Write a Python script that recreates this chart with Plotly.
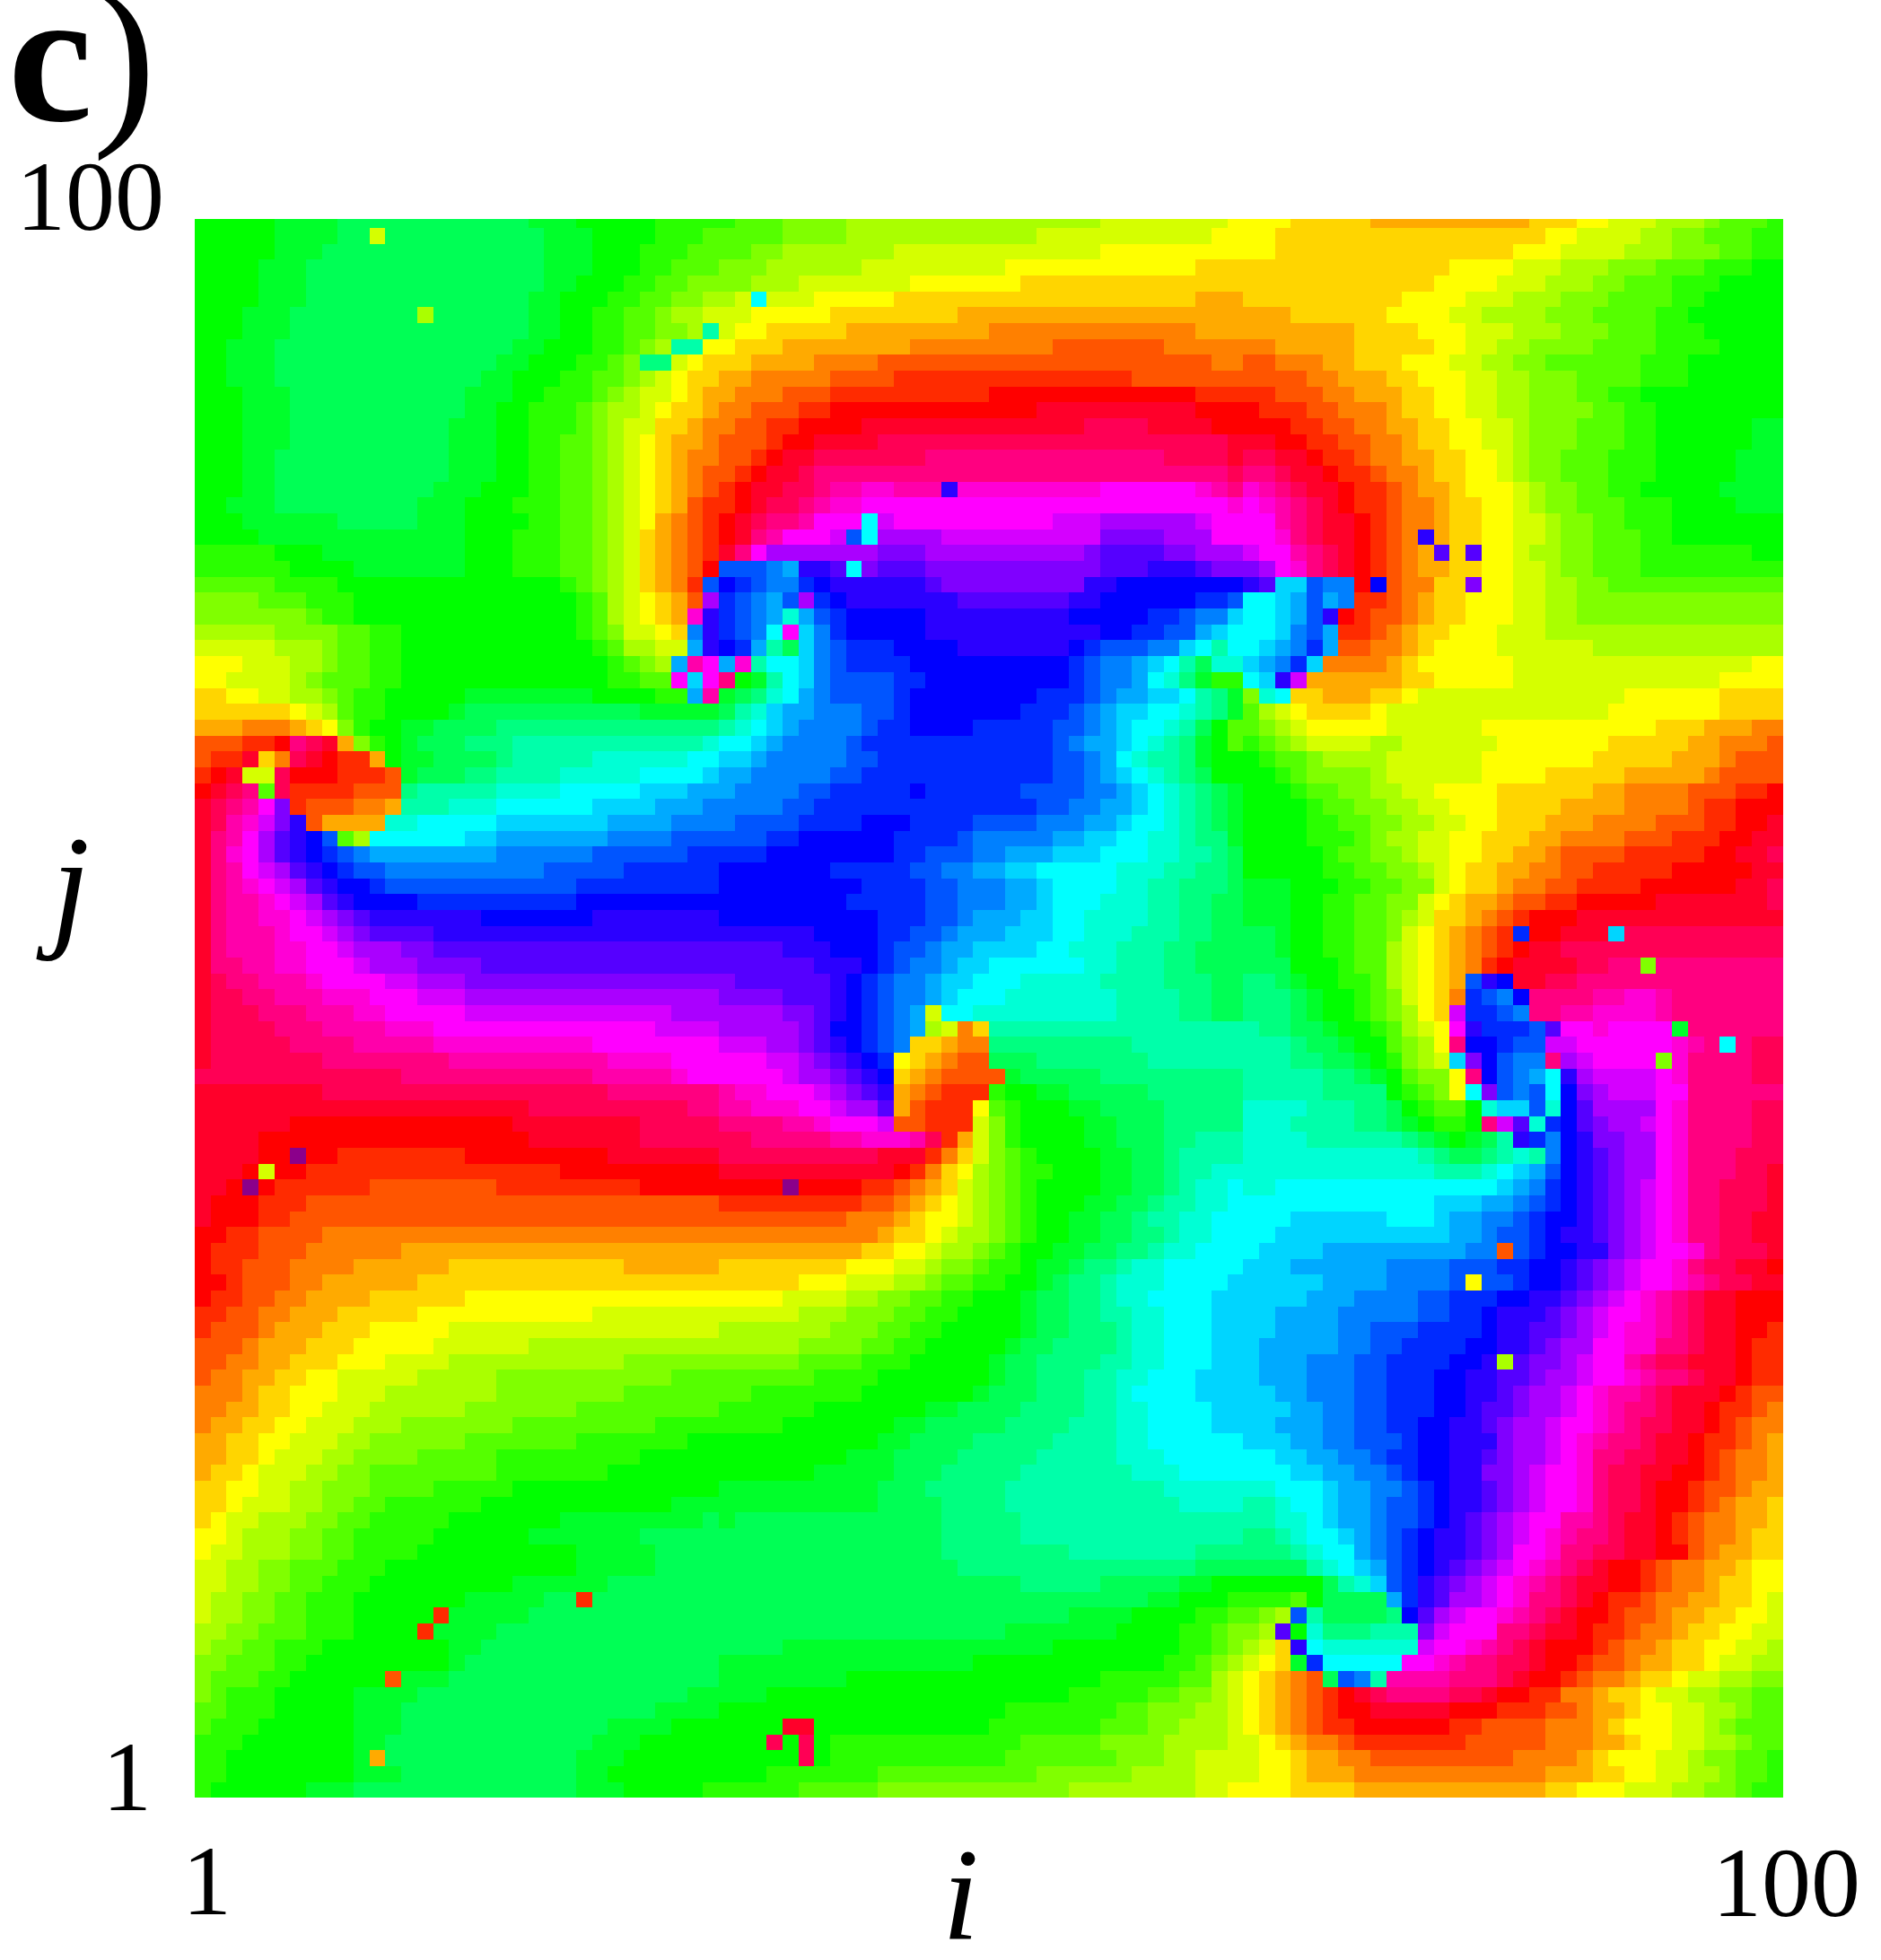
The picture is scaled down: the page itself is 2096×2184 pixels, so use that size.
"""Phase map c): hue of the oscillator phase on a 100 x 100 lattice."""
import plotly.graph_objects as go

# One character per cell, top row (j=100) first. Base 36 digit = hue / 10 degrees.
PHASE_LEFT = [  # i = 1..33
    "cccccddddeeeeeeeeeeeedddcccccbbbb", "cccccddddeeeeeeeeeeeeedddccccbbba", "cccccdddeeeeeeeeeeeeeedddcccbbbaa",
    "ccccdddeeeeeeeeeeeeeeedddcccbbaaa", "ccccdddeeeeeeeeeeeeeeeddcccbbaa99", "ccccdddeeeeeeeeeeeeeeddcccbbaa998",
    "cccdddeeeeeeeeeeeeeeeddccbbaa9887", "cccdddeeeeeeeeeeeeeeeddccbbaa9987", "ccdddeeeeeeeeeeeeeeeddcccbba98776",
    "ccdddeeeeeeeeeeeeeeddcccbba988765", "ccdddeeeeeeeeeeeeeddcccbbaa987655", "cccdddeeeeeeeeeeedddccbbba9877654",
    "cccdddeeeeeeeeeeeddccbbba98876554", "cccdddeeeeeeeeeedddccbbba98775543", "cccdddeeeeeeeeeedddccbbaa98765443",
    "cccddeeeeeeeeeeedddccbbaa98765433", "cccddeeeeeeeeeeedddccbbaa98765432", "cccddeeeeeeeeeedddcccbbaa98765432",
    "ccdddeeeeeeeeedddcccbbbaa98765421", "cccddddddeeeeedddccccbbaa98764321", "ccccdddddddddddddcccbbbaa98754321",
    "bbbbbcccdddddddddcccbbbaa98754321", "bbbbbbccccdddddddcccbbbaa98754320", "aaaaabbbbccccccccccccccba9875431m",
    "9999aaabbbccccccccccccccba876542s", "9999999abbccccccccccccccba87654vp", "888889999aabbcccccccccccba97765lp",
    "777778889aabbccccccccccccba8877kp", "666777889aabbcccccccccccccba98kwu", "66777789aaabbcccccccccccccbbaauju",
    "556677889abbcccccddddddddccccbbkw", "555555678abbccccdeeeeeeeeeeeddddd", "4443334569bccddeeeeffffffffffffff",
    "222110xyz49bcdeeefffggggggggggggh", "211z53yz0114cddeeeefggggghhhhhhii", "10z77y0001112deeeffgggghhhhhiiiij",
    "0zyxay1111222fggggghhhhiiiiijjjkk", "zyxwur1222334ggghhhiiiiiijjjjkkkl", "zywvtrp24444hhiiiiijjjjjjjkkkklll",
    "zxwusqpoma8iiiiiijjkkkkkkkllllmmm", "zxvusqponmlkkkkkkkkllllllmmmmmmnn", "zxwutsqponmmllllllllllmmmmmnnnnnn",
    "zxwvutsqpoonmmmmmmmmmmmmnnnnnnnnn", "zxwwvutsqpoooonnnnnnnnnnooooooooo", "zxwwvvutsrqpppppppooooooopppppppp",
    "zxwwwvuutsrqqqqpppppppppppppppppp", "zxwwwvvuutsssrrqqqqqqqqqqqqqqqqqq", "zxxwwvvuuutsssrrrrqqqqqqqqqqqqqqq",
    "zyxxwwwvuuuuttsssrrrrrrrrrrrrrrrr", "zyyxxwwwvvvuuutttssssssssssssssss", "zyyyxxxwwwvvuuuuutttttttttttttsss",
    "zyyyyxxxwwwwvvvuuuuuuuuuuuuuutttt", "zyyyyyxxxxwwwwwvvvvvvvvvvuuuuuuuu", "zyyyyyyyxxxxxxxxwwwwwwwwwwvvvvuuu",
    "yyyyyyyyyyyyyxxxxxxxxxxxxwwwwwvuu", "zzzzzzzzyyyyyyyyyyyyyyyyyyxxxxxxx", "zzzzzzzzzzzzzzzzzzzzzyyyyyyyyyyxx",
    "zzzzzz00000000000000zzzzzzzzyyyyy", "zzzz00000000000000000zzzzzzzyyyyy", "zzzz0000011111111000000000zzzzzzz",
    "zzz000011111111111111110000000000", "zz0001111112222222211111111100000", "z000111222222222222222222222222221",
    "z00011222222222222222222222222222", "001122223333333333333333333333333", "0111222333333444444444444444444444",
    "011222333344444455555555555444444", "001222334444445555555555555555555", "011223344445555556666666666666666",
    "112233444555556666666666677777777", "122234445556666677777777777777777", "222344455566666777777888888888888",
    "223344555666777788888888888999999", "233445566777778888899999999999aaa", "333455666777888888899999999aaaaaa",
    "334455667778888889999999aaaaaaaaa", "34455667778889999999aaaaaaaaabbbb", "44556677788999999aaaaaaabbbbbbbcc",
    "445567778899 99aaaaabbbbbbbbbccccc", "45567778899aaaaaaaabbbbbbbccccccc", "55667788999aaaabbbbbccccccccccccc",
    "55677788 99aabbbbbbccccccccccccddd", "567788899aabbbbbcccccccddddddddde", "66788899aabbbbbccccccdddddddeeeee",
    "67788899aabbbbccccccccccdddddeeee", "778899aaabbbccccccccccccdddddeeee", "778899aabbbcccccccccddddddeeeeeee",
    "78899aabbbcccccccdddddeeeeeeeeeee", "78899aabbbcccccddddddeeeeeeeeeeee", "8899aaabbbccccdddddeeeeeeeeeeeeee",
    "899aabbbccccccccddeeeeeeeeeeeeeee", "99aaabbcccccccccdeeeeeeeeeeeeeeee", "9aaabbcccccccdddeeeeeeeeeeeeeeeee",
    "9abbbcccccddddeeeeeeeeeeeeeeeeedd", "aabbbcccccdddeeeeeeeeeeeeeeeedddd", "abbbccccccdddeeeeeeeeeeeeeddddccc",
    "bbbcccccccddeeeeeeeeeeeeedddccccc", "bbccccccccddeeeeeeeeeeeedddcccccc", "bbccccccccdddeeeeeeeeeeeddccccccc",
    "bccccccdddeeeeeeeeeeeeeedddcccccb",
]

PHASE_MID = [  # i = 34..66
    "baaa999988888888888888887777777 76", "aaaa99998888888888887777777777766", "aa9988888887777777777777666666666",
    "999888888777777777666666666666555", "998887777777666666655555555555555", "877777666665555555555555555555444",
    "776666655555555444444444444444444", "76655555444444444333333333333344", "655544444444333333333222222233333 3",
    "55444433332222222222222222222223", "44333332222111111111111111222222", "433322211111111110000000000000111",
    "33222110000000000000zzzzzzzzzz000", "3221100 00zzzzzzzzzzzzzzyyyyzzzz0", "222100zzzzyyyyyyyyyyyyyyyyyyyyyyz",
    "2210zzyyyyyyyxxxxxxxxxxxxxxxyyyyz", "210zzyxxxxxxxxxxxxxxxxxxxxxxxxxxy", "10zzyyxwwvvwwwvvvvvvvvvvuuuuuuvwx",
    "10zyyxwvvuuuuuuuuuuuuuuuuuuuuuuuv", "0zyxxwuuuttuuuuuuuuuutttsssssstuu", "0zxwuuutmsssssttttttttttrrrrsssu",
    "zxusssssssrrrssssssssssrqqqqrrs", "mmmlkppqqrqqqrrrrrrrrrrrqqqpppqrr", "onmllnoppppppqrrrrrrrrrppoooooooo",
    "nmlkmsnopppppppqqqqqqqppoooooonnmi", "nmlkhkmnooooopppppppppooooonnmllji", "nmliujlnooooopppppppppppoonnmmkjii",
    "onkgejlmnnnoooopppppppo nmmmlljigi", "kvgiijlmnnnnoooooooooonmllkjigeh", "xcdgijlmmmmnnooooooooonmllkihfdb",
    "defhiklmmmmnoooooooonnnmlkkjjigfdb", "eghjkklllmmnooooooonnnmlkjjiihgfdc", "ghijkllllmnnoooonnnnnmmlkjiihgeca",
    "iijkllllmnnnnnnnnnnnnmlkkjihgfdca", "jjklllllmmnnnnnnnnnnnmmlkihggfdc", "kklllllmmnnnnnnnnnnnnmmlkjihgfec",
    "kllllmmnnnnnonnnnnnmmmmllkjihgfed", "llllmmnnnnnnnnnnnnnnmmllkkjihgfed", "lmmmmnnnnooonnnnmmmmlllkkjiihgfed",
    "mmmnnoooooonnnnmlllllkkjjiihhgffd", "nnnoooooooonnmmmllkkkjjjiiihhggfe", "ooooooonnnnnmmllkkjjiiiiihhhggffe",
    "ooooooooonnnnmmlllkkjiiiihhggfffe", "oooooooonnnnnmmlllkkjiiihhhggffee", "oooooooooonnnmmlkkkjjiihhhhggffee",
    "ppppppoooonnmmlkkkjjjiihhhgggffee", "qqqqpppooonmmlkkjjjjiihhhgggffeee", "qqqqqqppponmllkjjiiiiiihhgggffeee",
    "rqqqqqqponmllkjjiiihhhhhggggfffee", "rrrrqqqponmllkjiiihhhhhhhggggffee", "ssssrrqponmlkjiihhhhhhhhhggggffee",
    "sssssrqoonmlk8735gggggggggggggggg", "tttssrqponml55433fffffffffggggggg", "uuuttsrqpon654322eeefffffffgggggg",
    "uuuutssrqpo5432222deeeeefffffffff", "wvvuuutsrqp432111bccddeeeeeffffff", "wwvvvuutssq421116abcccddeeeefffff",
    "xxxxwwvuuut2211179bccccddeeefffff", "yyxxxxxwwvvvwy1479bccccddeeeffggg", "yyyyyyyyyyzzz13579abccccddeefgggg",
    "zzzzzzzzzzz0135689abbcccddeefgghh", "000000000112345789abccccddeefghhi", "111111111223456789abcccddeefgghhi",
    "222222223334566789abccddeefgghhii", "333333333345567889abccddeeffghhii", "44444444455667889abccddeeffghhiii",
    "5555555566677899abbcddeffghhiiiii", "55555666777889aabbccdeffghhhiiiij", "666677778899aabbcccdeeffghhiiiijj",
    "77777888999aabbccccdeeffgghhiiijj", "8888888999aabbcccccdeefffghhiiijj", "888889999aabbcccccdeeffffghhiiijj",
    "99999aaaabbbcccccdeeffffgghhiiijj", "aaaaaabbbbcccccccdeefffgghhiiijjj", "aabbbbbbbcccccccdeeefffgghiiiijjj",
    "bbbbbbcccccccddeeeeffffgghhiiiijj", "bbbbcccccccddeeeeeffffggghhiiiijj", "ccccccccccddeeeefffffgggghhiiiiii",
    "ccccccccdddeeeefffffggggghhhiiiii", "ccccccdddddeeefffffggggggghhhiiii", "ddddddddddeeefffffgggggggggghhhhh",
    "ddddddddddeeeeffffggggggggggghhhh", "deeeeeeeeeeeeefffffgggggggggggggg", "eeeeeeeeeeeeeefffffgggggggggggggg",
    "eeeeeeeeeeeeeeffffffffggggggggfff", "eeeeeeeeeeeeeeefffffffffffffffeee", "eeeeeeeeeeeeeeeeeeefffffeeeeeddcc",
    "eeeeeeeeeeeeeeeeeeeeeeeeeeeddcccb", "eeeeeeeeeeeeeeeeeeeeeeddddccccbba", "eeeeeeeeeeeeeeeeeedddddddccccbba9",
    "eeeedddddddddddddddddccccccccbba98", "ddddddddddddddddccccccccccccbba98", "ddddddddccccccccccccccccbbbbbaa87",
    "dddcccccccccccccccccccbbbbbaa9987", "ccccccccccccccccccbbbbbbbaa999887", "cccccccccccccccccbbbbbbbaaa998887",
    "cccccccbbbbbbbbbbbbaaaaa999988887", "cccccccbbbbbbbbbbbaaaaaaa99988777", "cccbbbbbbbaaaaaaaaaa9999998888777",
    "bbbbbaaaaa999999999999888888887 76",
]

PHASE_RIGHT = [  # i = 67..100
    "66655555444444444455566777888 9aaabbb", "6655555555555555555 66777788 99aaabbc", "665555555555555556667777888999aabbcc",
    "5555555555555 666677788 8999aaabbbccc", "555555555555666677 78889 9aaabbbcccc", "55555555556666777 8889 99aaaabbccccc",
    "44455555566667788889 99aaaabbccccc", "44444445555666777888999aaabbbccccc", "3344444555556677889999aaaabbbbccccc",
    "2233344555666778899aaaaaabbbccccc", "222233444556667788999aaaabbbcccccc", "11222334445566778899 9aabbcccccccc",
    "01112233345566778 89999aabbcccccccc", "000112233445566778999aaabbccccccdd", "zz001122334556677 8999aaabbccccccdd",
    "yyzz0112334455667899aaabbbcccccddd", "xxyzz01123345566789 9aaabbbcccccddd", "vwxyzz01123445666789 9aabbcccccddd",
    "uvwxyz011233455667899aaabbbccccddd", "uuwxyzz012334556677899aabbbccccccc", "uuvxyzz012334556677899aaabbccccccc",
    "tuuwxyz012344556678899aaabbbbbbbccc", "rsuvxyz012344556677899aaabbbbbbbbb", "pqjjmll0123355566778899aaaaaaaaaaa",
    "iijkmkl11234556667788999999999999", "iijkmp012234556667788999999999999", "iijlmk112345566677788888888888888",
    "ijklnk2233456666777777888888888888", "jklnj3333456666667777777777777776", "ijpt44444455666667777777777777666666",
    "9hi554445567777777777777666666555", "a876555567777777777777766666665555", "a9876666677777766666666666 55 54443",
    "ba98777788777777666666655555443332", "cbaa988887777776666666555554443222", "ccba99998777777 66665555544 4443222221",
    "cccbaa998877666655555544333322 2110", "ccccbaa9988776665555444433332110 0", "ccccbbaa99887766555444333322 21100z",
    "ccccbbba988776655544333322211100zz", "cccccbaa99877665544322221111100zzy", "cccccbbaa9987655443322 1111100000zzy",
    "dddcccbbaa99765543322111100000 0zzyy", "dddccbbaa99765443221100000zzzzzzzy", "dddccbbaa987554321000zzzzzzzzzzzzz",
    "eedccbbaa97654321000zzzzyyyyyyyyyy", "eedccbbaa876543210zzyyyyyyyyyyyyyy", "eeecccbaa87654310zzzzyyxxxxxxxxxxx",
    "ffedccbba87654mpozzyyxxxxxxxxxxxxx", "fffedccba97653nmloxxxxwwvvwxxxxxxx", "fffedccba9865tnnmlxxwwvvvvwxxxxxxx",
    "gffeedccba876upnnnmquuvuuuuvxxxxxx", "gggfeedcca986xoonmmttuuuuuuvwxxxyy", "gggffeedcb987jromllxstuuuuuvxxxxyy",
    "gggggffedca996xomlkipsttttuvxxxxyy", "gggggffffcba96irmlmiorstttuuxxxxxx", "hhhhgggffecbaachjjmhoqssssuvxxxxyy",
    "hhhggggffedcbbcxtqhnoqrsstuvxxxxyy", "hhhhggggggfedcdegpnloprrssuvxxxxyy", "hhhhhhhhhhhgfeefghglopqrssuvxxxyyy",
    "hhhhhhhhhhhhggghijkmopqrssuvxxxyyz", "hhiiiiiiiiiiiiiijklnopqrstuvxxyyyz", "iiiiiiiiiiiijjjkklmnopqrstuvxxyyyz",
    "iiijjjjjjiiijkkllmnoopqrstuvxxyyzz", "iijjjjjjjjjjjkklmmnoppqrstuvxxyyzz", "ijjjjkkkkkkkkklllmnoopprstuuvxyyyzz",
    "jjjkkkkkkllllmmmnnoopqrstuuvxyyzz0", "jjjjjkkkkllllmmmmnoopqrstuuvwxyyzz0", "jjjjkkkllllmmnnnooppqrstuvwxyzz000",
    "jjkkkklllllmmnnopppqrstuuvwxyzz000", "jjkkkkllmmmnnnnoppqqrstuvvwxyzz001", "jkkkkkllmmnnnnoopp qrssuuvvxxyzz011",
    "jkkklllmmnnnnooppqrrstuuwxyyzzz011", "jkkklllmmnnnooppqqrsstuuvwxxyzz0112", "jjkklllmmnnnoopp qrsstuvwwxyzzz0122",
    "jjjkkllmmnnnoopqqrsstuvwxxyzz01123", "jjkkkllmmnnooppqrsstuuvwxyyzz01233", "jjjkkllmmmnoopppr sstuvwxxyzz011234",
    "iijjkkllmnnooppqrsstuvxxyyzz012334", "iiijjkkllmnoopprrstuuvxyyzz0012334", "hhiiijkkllmnoppqrstuuvxyyz00122344",
    "gghiijkklmmnoppqrstuuvxyyz00123445", "gghhijkklmmnopqrstuuwwxyzz01233445", "ffghiijklmnoppqrstuvwxxyzz01233455",
    "fffghiiklmnoppqrsuuvxxyyzz00234455", "eeeeghijkmnopqrstuvwxyz00123344566", "cccccegh jmnpqrstuvwxyzz001233455 66",
    "bbbaceeeeknpqsstuvxxyz011233445567", "a98mgeeeefoqstuuvwxyz0012234455667", "98qchfffgggrtuuuxxyzz0112334556677",
    "875pihhhhhhtuuvwxyz000123345566778", "765dniiiiiuuvwxxyyz001223445567788", "65432emlgwwwwxxxyz001233455677889 9",
    "6543210zyxxxxyyz0011334556778899a", "65432100zzzzz000111223445667788 9aa", "65432110000001122223334566677 89aa",
    "765433211111112222233344566778 89aa", "76654433222222222333345 66677899aabb", "766544433333333333344455667788 9aabbc",
    "66655554444444444445566677788 99abbbb",
]

# Isolated cells that do not follow the smooth field. "P" = the dark purple cells.
DEFECT_I = [12, 15, 33, 31, 32, 29, 30, 36, 48, 43, 43, 42, 78, 79, 81, 81, 75, 7, 5, 4, 38, 47,
            84, 90, 92, 94, 97, 93, 83, 81, 83, 25, 16, 15, 13, 12, 38, 39, 37, 39, 39]
DEFECT_J = [99, 94, 93, 92, 92, 91, 91, 95, 83, 81, 80, 78, 80, 79, 79, 77, 77, 41, 40, 39, 39, 50,
            55, 55, 53, 49, 48, 47, 35, 33, 28, 13, 12, 11, 8, 3, 5, 5, 4, 4, 3]
DEFECT_HUE = ["7", "8", "g", "g", "g", "f", "f", "i", "p", "i", "i", "i", "p", "q", "q", "r", "o", "P", "7", "P", "P", "7",
              "n", "j", "9", "d", "i", "9", "2", "6", "8", "1", "1", "1", "2", "4", "z", "z", "y", "y", "y"]

TICK_LABELS = ["1", "100"]
X_LABEL = "i"
Y_LABEL = "j"

N = 100
ZMAX = 370.0
SERIF = "Liberation Serif"

# plot area in page pixels
LEFT, RIGHT, TOP, BOTTOM = 217, 1987, 244, 2003


def fit(seg, n):
    seg = seg.replace(" ", "")
    return seg[:n].ljust(n, seg[-1])


def code_to_hue(c):
    return 365 if c == "P" else int(c, 36) * 10


rows = [fit(a, 33) + fit(b, 33) + fit(c, 34)
        for a, b, c in zip(PHASE_LEFT, PHASE_MID, PHASE_RIGHT)]
z = [[code_to_hue(c) for c in row] for row in reversed(rows)]
for i, j, h in zip(DEFECT_I, DEFECT_J, DEFECT_HUE):
    z[j - 1][i - 1] = code_to_hue(h)

hsv_scale = [
    [0 / ZMAX, "#ff0000"], [60 / ZMAX, "#ffff00"], [120 / ZMAX, "#00ff00"], [180 / ZMAX, "#00ffff"],
    [240 / ZMAX, "#0000ff"], [300 / ZMAX, "#ff00ff"], [360 / ZMAX, "#ff0000"],
    [362 / ZMAX, "#8b008b"], [1, "#8b008b"],
]

fig = go.Figure(go.Heatmap(
    z=z,
    x=list(range(1, N + 1)),
    y=list(range(1, N + 1)),
    colorscale=hsv_scale,
    zmin=0,
    zmax=ZMAX,
    showscale=False,
))


def label(text, px, py, size):
    fig.add_annotation(
        text=text,
        x=(px - LEFT) / (RIGHT - LEFT),
        y=(BOTTOM - py) / (BOTTOM - TOP),
        xref="paper",
        yref="paper",
        xanchor="center",
        yanchor="middle",
        showarrow=False,
        font={"family": SERIF, "size": size, "color": "#000000"},
    )


label("<b>c</b>)", 91, 62, 212)
label(TICK_LABELS[1], 100, 219, 110)
label(TICK_LABELS[0], 141, 1980, 110)
label(TICK_LABELS[0], 230, 2096, 110)
label(TICK_LABELS[1], 1991, 2098, 110)
label(f"<i>{X_LABEL}</i>", 1070, 2110, 147)
label(f"<i>{Y_LABEL}</i>", 70, 986, 155)

fig.update_layout(
    width=2096,
    height=2184,
    autosize=False,
    paper_bgcolor="#ffffff",
    plot_bgcolor="#ffffff",
    margin=dict(l=LEFT, r=2096 - RIGHT, t=TOP, b=2184 - BOTTOM, pad=0),
    xaxis=dict(range=[0.5, 100.5], showticklabels=False, ticks="", showgrid=False, zeroline=False, showline=False),
    yaxis=dict(range=[0.5, 100.07], showticklabels=False, ticks="", showgrid=False, zeroline=False, showline=False),
)

fig.write_html("out.html", config={"displayModeBar": False}, post_script="document.body.style.margin='0';")
